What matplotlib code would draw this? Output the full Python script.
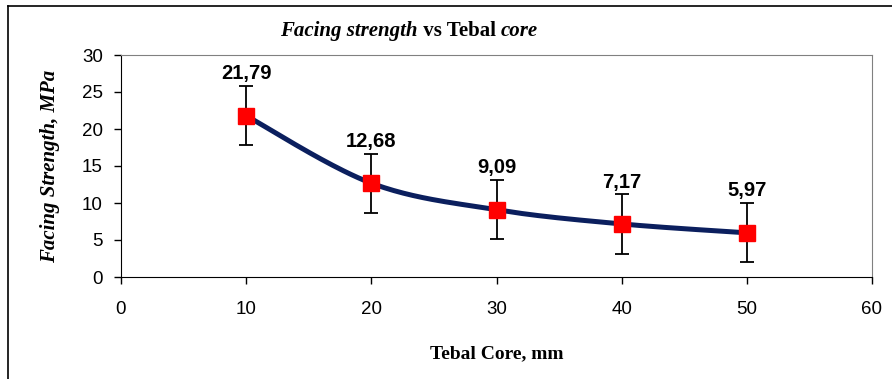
import numpy as np
import matplotlib.pyplot as plt
from matplotlib.lines import Line2D

# Data
tebal_core = [10, 20, 30, 40, 50]
facing_strength = [21.79, 12.68, 9.09, 7.17, 5.97]
error = [4, 4, 4, 4, 4]
x_ticks = [0, 10, 20, 30, 40, 50, 60]
y_ticks = [0, 5, 10, 15, 20, 25, 30]


# Excel-like smoothed line (Catmull-Rom through the points)
def smooth_line(xs, ys, n=40):
    p = np.column_stack([xs, ys]).astype(float)
    p = np.vstack([p[0], p, p[-1]])
    out = []
    t = np.linspace(0, 1, n)[:, None]
    for i in range(1, len(p) - 2):
        p0, p1, p2, p3 = p[i - 1], p[i], p[i + 1], p[i + 2]
        seg = 0.5 * ((2 * p1) + (-p0 + p2) * t + (2 * p0 - 5 * p1 + 4 * p2 - p3) * t ** 2
                     + (-p0 + 3 * p1 - 3 * p2 + p3) * t ** 3)
        out.append(seg)
    out = np.vstack(out)
    return out[:, 0], out[:, 1]


fig = plt.figure(figsize=(8.92, 3.79), dpi=100)
ax = fig.add_axes([121 / 892, 1 - 277 / 379, (872 - 121) / 892, (277 - 55) / 379])

sx, sy = smooth_line(tebal_core, facing_strength)
ax.plot(sx, sy, color='#0b1f5e', lw=3.6, zorder=2)
ax.errorbar(tebal_core, facing_strength, yerr=error, fmt='none', ecolor='black',
            elinewidth=1.3, capsize=5, capthick=1.3, zorder=3)
ax.plot(tebal_core, facing_strength, 's', color='#ff0000', markersize=11.5, zorder=4)

for x, y, e in zip(tebal_core, facing_strength, error):
    ax.annotate(f'{y:.2f}'.replace('.', ','), (x, y + e), xytext=(0, 2),
                textcoords='offset points', ha='center', va='bottom',
                fontsize=14.5, fontweight='bold', family='Liberation Sans')

ax.set_xlim(0, 60)
ax.set_ylim(0, 30)
ax.set_xticks(x_ticks)
ax.set_yticks(y_ticks)
for lab in ax.get_xticklabels() + ax.get_yticklabels():
    lab.set_family('Liberation Sans')
    lab.set_fontsize(13.5)
ax.tick_params(direction='out', length=5, width=1, pad=8)
ax.tick_params(axis='x', pad=12)

ax.spines['top'].set_color('#808080')
ax.spines['right'].set_color('#808080')
ax.spines['left'].set_color('black')
ax.spines['bottom'].set_color('black')

ax.set_xlabel('Tebal Core, mm', family='Liberation Serif', fontweight='bold',
              fontsize=14, labelpad=20)
ax.set_ylabel('Facing Strength, MPa', family='Liberation Serif', fontweight='bold',
              style='italic', fontsize=15, labelpad=16)

# title with mixed styles, centred above the plot
title_y = 0.905
parts = [('Facing strength', 'italic'), (' vs Tebal ', 'normal'), ('core', 'italic')]
texts = [fig.text(0, title_y, s, family='Liberation Serif', fontweight='bold',
                  style=st, fontsize=15, va='baseline') for s, st in parts]
fig.canvas.draw()
r = fig.canvas.get_renderer()
widths = [tx.get_window_extent(r).width for tx in texts]
x0 = 409 - sum(widths) / 2
for tx, w in zip(texts, widths):
    tx.set_x(x0 / fig.bbox.width)
    x0 += w

# outer chart border (left and top edges visible)
fig.add_artist(Line2D([8 / 892, 8 / 892], [0, 1 - 6 / 379], color='black', lw=1.2,
                      transform=fig.transFigure))
fig.add_artist(Line2D([8 / 892, 1], [1 - 6 / 379, 1 - 6 / 379], color='black', lw=1.2,
                      transform=fig.transFigure))

fig.savefig('out.png', dpi=100)
